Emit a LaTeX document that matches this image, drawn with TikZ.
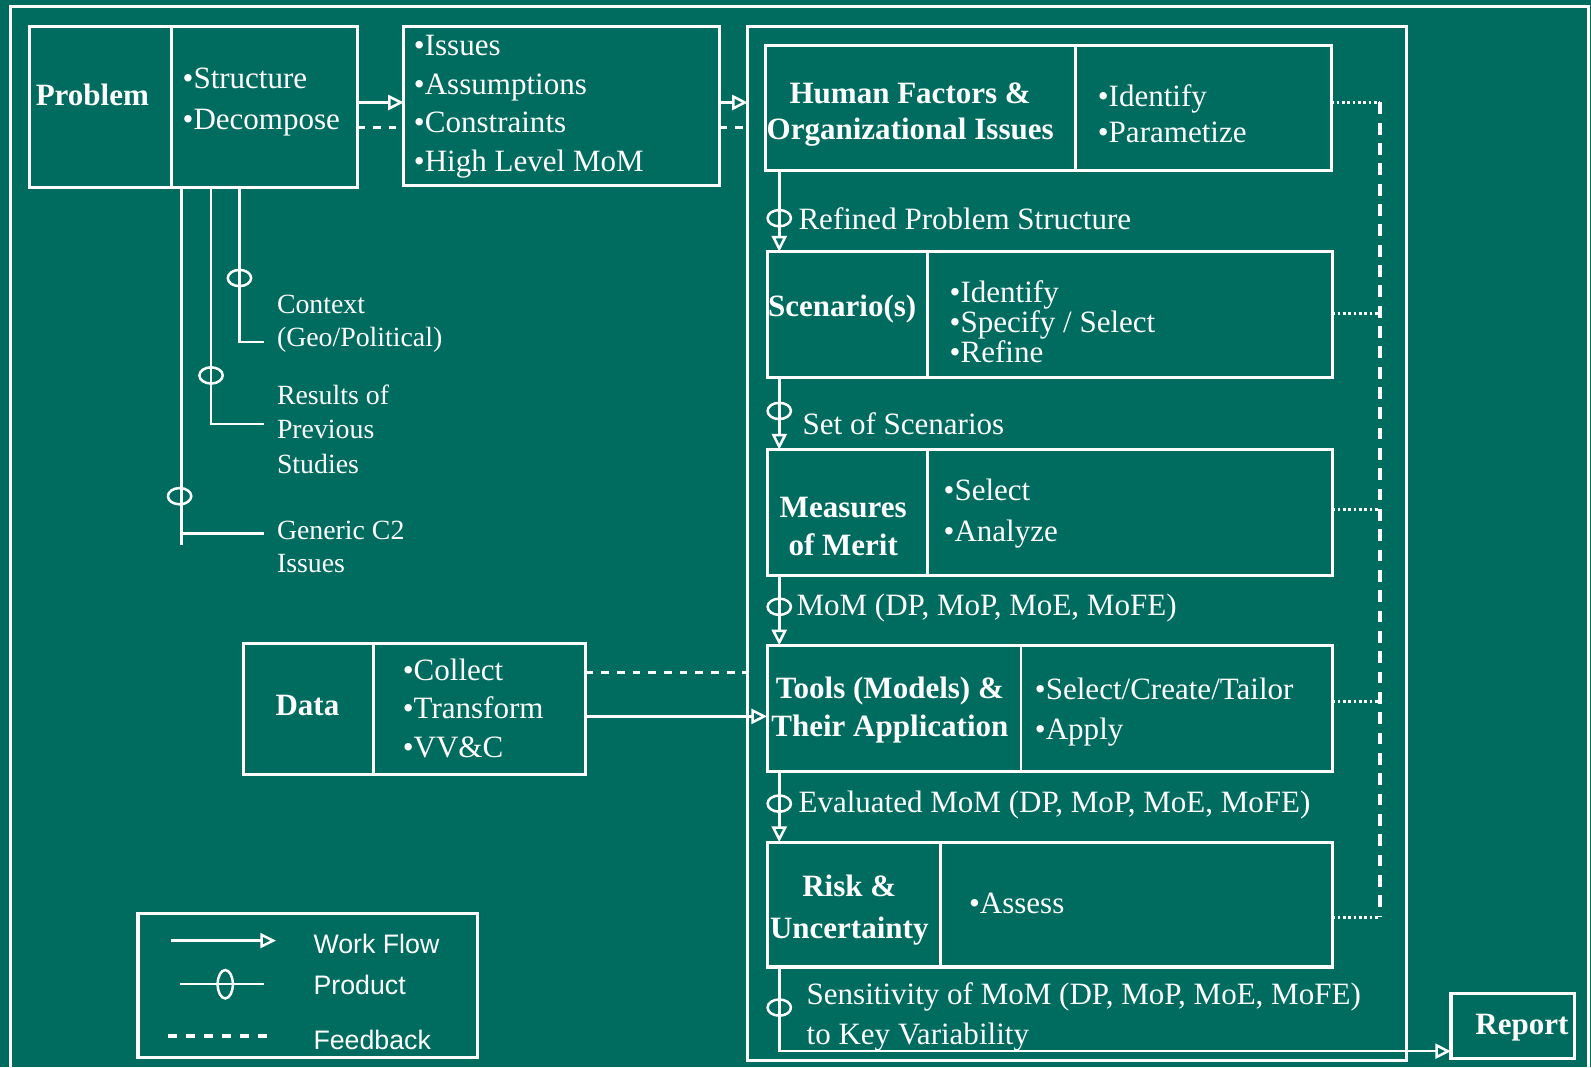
\documentclass[tikz,border=0pt]{standalone}
\usepackage{fontspec}
\setmainfont{Liberation Serif}
\newfontfamily\legfont{Liberation Sans}
\usepackage{tikz}
\definecolor{bgteal}{RGB}{0,108,96}
\usetikzlibrary{arrows.meta, shapes.geometric, positioning}

\begin{document}
\begin{tikzpicture}[x=0.1mm, y=-0.1mm,
		>={Triangle[open, length=4.4pt, width=4.2pt]}, %Pfeilspitzen
		every node/.style={text=white, inner sep=0pt, outer sep=0pt},
		box/.style 2 args={draw=white, line width=0.85pt, minimum width=#1, minimum height=#2},
		div/.style={draw=white, line width=0.7pt},
		flow/.style={draw=white, line width=0.7pt},
		fb/.style={draw=white, line width=0.9pt, dash pattern=on 2.2pt off 2.2pt},
		fbv/.style={draw=white, line width=0.9pt, dash pattern=on 3.3pt off 2.4pt},
		dots/.style={draw=white, line width=0.9pt, dash pattern=on 0.75pt off 0.75pt},
		prod/.style={ellipse, draw=white, line width=0.7pt, minimum width=2.3mm, minimum height=1.6mm},
		ttl/.style={font=\fontsize{8.7}{#1}\selectfont\bfseries, align=center},
		lst/.style={font=\fontsize{8.7}{#1}\selectfont, align=left, anchor=west},
		side/.style={font=\fontsize{7.8}{#1}\selectfont, align=left, anchor=west},
		leg/.style={font=\legfont\fontsize{7.5}{9}\selectfont, anchor=west}]
	%Hintergrund und Rahmen
	\useasboundingbox (0,0) rectangle (1568,1052);
	\fill[bgteal] (0,0) rectangle (1568,1052);
	\draw[white, line width=0.85pt] (10,1052) |- (1566,6) -- (1566,1052);
	%Kaesten
	\node[box={32.3mm}{15.9mm}] (prob) at (190.5,105.5) {};
	\node[box={31.1mm}{15.7mm}] (iss) at (553.5,104.5) {};
	\node[box={64.9mm}{101.9mm}] (big) at (1061.5,535.5) {};
	\node[box={55.8mm}{12.3mm}] (hf) at (1033,106.5) {};
	\node[box={55.7mm}{12.4mm}] (scen) at (1034.5,310) {};
	\node[box={55.7mm}{12.4mm}] (meas) at (1034.5,505) {};
	\node[box={55.7mm}{12.4mm}] (tools) at (1034.5,698) {};
	\node[box={55.7mm}{12.3mm}] (risk) at (1034.5,891.5) {};
	\node[box={33.7mm}{12.9mm}] (data) at (408.5,698.5) {};
	\node[box={12.2mm}{6.4mm}] (rep) at (1491,1011) {};
	\node[box={33.5mm}{14.2mm}] (legbox) at (303.5,971) {};
	\foreach \b/\d in {prob/14mm, hf/30.6mm, scen/15.8mm, meas/15.8mm, tools/25mm, risk/17.1mm, data/12.8mm}
		\draw[div] ([xshift=\d]\b.north west) -- ([xshift=\d]\b.south west);
	%Beschriftung der Kaesten
	\node[ttl=10.5] (probT) at (91,94) {Problem};
	\node[lst=11.7] (probL) at (180,100.5) {•Structure\\•Decompose};
	\node[lst=10.8] (issL) at (408,105) {•Issues\\•Assumptions\\•Constraints\\•High Level MoM};
	\node[ttl=10.2] (hfT) at (897,113) {Human Factors \&\\Organizational Issues};
	\node[lst=10.2] (hfL) at (1082,112) {•Identify\\•Parametize};
	\node[ttl=10.5] (scenT) at (830,305) {Scenario(s)};
	\node[lst=8.3] (scenL) at (936,317) {•Identify\\•Specify / Select\\•Refine};
	\node[ttl=10.5] (measT) at (831,519) {Measures\\of Merit};
	\node[lst=11.4] (measL) at (930,506) {•Select\\•Analyze};
	\node[ttl=10.8] (toolsT) at (877,700) {Tools (Models) \&\\Their Application};
	\node[lst=11.1] (toolsL) at (1020,701.5) {•Select/Create/Tailor\\•Apply};
	\node[ttl=11.7] (riskT) at (837,897) {Risk \&\\Uncertainty};
	\node[lst=10.8] (riskL) at (955,890) {•Assess};
	\node[ttl=10.5] (dataT) at (303,695) {Data};
	\node[lst=10.8] (dataL) at (397,698) {•Collect\\•Transform\\•VV\&C};
	\node[ttl=10.5] (repT) at (1500,1013) {Report};
	%Arbeitsfluss
	\coordinate (fx) at (768,0);
	\draw[flow,->] (prob.east |- 0,101) -- (iss.west |- 0,101);
	\draw[fb] (prob.east |- 0,126) -- (iss.west |- 0,126);
	\draw[flow,->] (iss.east |- 0,101) -- (big.west |- 0,101);
	\draw[fb] (iss.east |- 0,126) -- (big.west |- 0,126);
	\draw[flow,->] (hf.south -| fx) -- (scen.north -| fx);
	\draw[flow,->] (scen.south -| fx) -- (meas.north -| fx);
	\draw[flow,->] (meas.south -| fx) -- (tools.north -| fx);
	\draw[flow,->] (tools.south -| fx) -- (risk.north -| fx);
	\draw[flow,->] (risk.south -| fx) |- ([yshift=-2.5mm]rep.west);
	\draw[fb] (data.east |- 0,663) -- (big.west |- 0,663);
	\draw[flow,->] (data.east |- 0,706) -- (tools.west |- 0,706);
	%Rueckkopplung
	\foreach \b/\yy in {hf/101, scen/309, meas/502, tools/691, risk/904}
		\draw[dots] (\b.east |- 0,\yy) -- (1360,\yy);
	\draw[fbv] (1360,101) -- (1360,904);
	%Produkte
	\node[prod] (p1) at (768,215) {};
	\node[prod] (p2) at (768,405) {};
	\node[prod] (p3) at (768,598) {};
	\node[prod] (p4) at (768,792) {};
	\node[prod] (p5) at (768,993) {};
	\node[lst=10] (p1L) at (787,216) {Refined Problem Structure};
	\node[lst=10] (p2L) at (791,418) {Set of Scenarios};
	\node[lst=10] (p3L) at (785,599) {MoM (DP, MoP, MoE, MoFE)};
	\node[lst=10] (p4L) at (787,793) {Evaluated MoM (DP, MoP, MoE, MoFE)};
	\node[lst=11.1] (p5L) at (795,1002) {Sensitivity of MoM (DP, MoP, MoE, MoFE)\\to Key Variability};
	%Zweige vom Problem
	\node[side=9.4] (ctxL) at (273,319) {Context\\(Geo/Political)};
	\node[side=9.7] (resL) at (273,423) {Results of\\Previous\\Studies};
	\node[side=9.1] (genL) at (273,539) {Generic C2\\Issues};
	\draw[flow] (prob.south -| 236,0) |- (260,337);
	\draw[flow] (prob.south -| 208,0) |- (260,418);
	\draw[flow] (prob.south -| 179,0) -- (179,537);
	\draw[flow] (179,526) -- (260,526);
	\node[prod] (b1) at (236,274) {};
	\node[prod] (b2) at (208,370) {};
	\node[prod] (b3) at (177,489) {};
	%Legende
	\draw[flow,->] (169,927) -- (272,927);
	\draw[flow] (177,970) -- (260,970);
	\node[prod, minimum width=1.5mm, minimum height=2.8mm] (legP) at (222,970) {};
	\draw[fb, line width=1pt, dash pattern=on 2.5pt off 2.5pt] (166,1021) -- (270,1021);
	\node[leg] (legW) at (309,930) {Work Flow};
	\node[leg] (legPr) at (309,971) {Product};
	\node[leg] (legF) at (309,1025) {Feedback};
\end{tikzpicture}
\end{document}
